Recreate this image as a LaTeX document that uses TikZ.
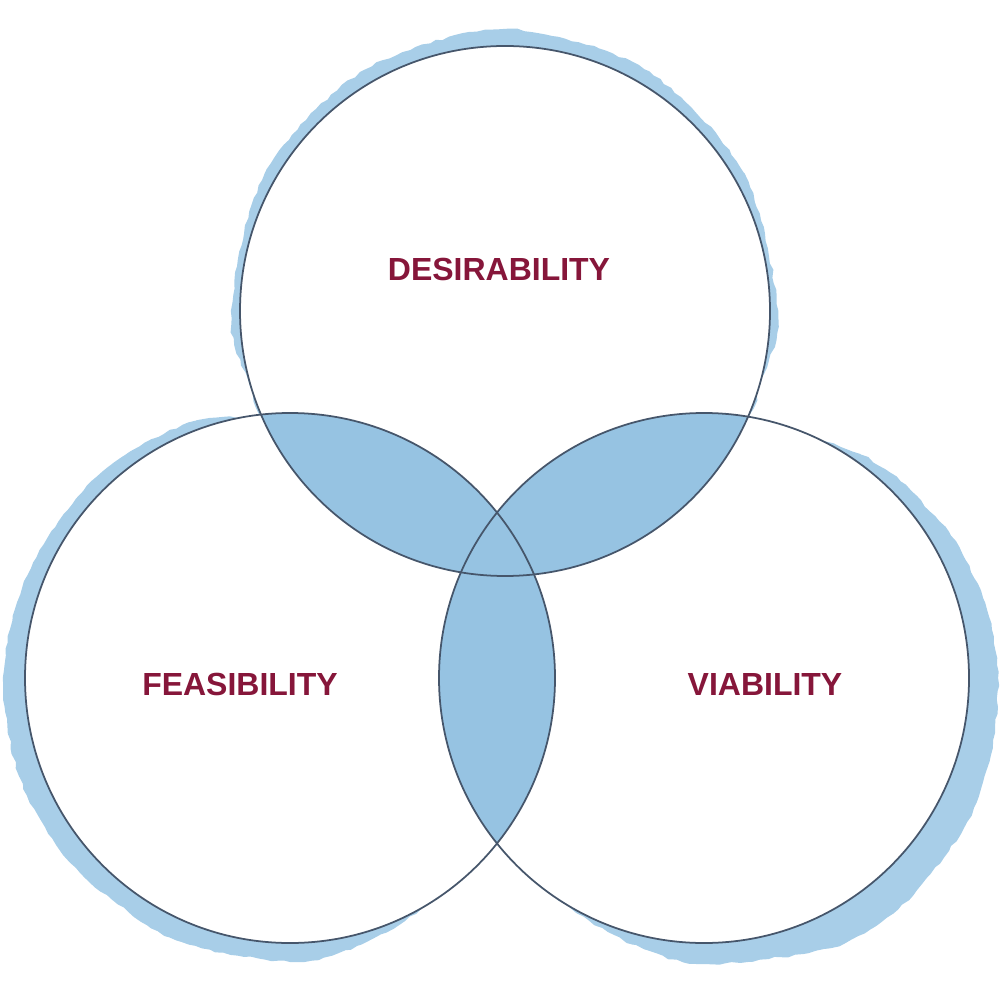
\documentclass[tikz,border=0pt]{standalone}
\usepackage{fontspec}
\newfontfamily\vennfont{Liberation Sans}
\usetikzlibrary{decorations.pathmorphing}
\definecolor{washblue}{HTML}{A8CEE8}
\definecolor{lensblue}{HTML}{96C3E2}
\definecolor{rimgray}{HTML}{46566B}
\definecolor{wine}{HTML}{86163A}
\tikzstyle{washout} = [fill=washblue, decorate, decoration={random steps, segment length=2pt, amplitude=0.35pt}]
\tikzstyle{ring} = [draw=rimgray, line width=0.5pt]
\tikzstyle{title} = [text=wine, inner sep=0pt, font=\vennfont\bfseries\fontsize{9.1}{11}\selectfont]

\begin{document}
\begin{tikzpicture}
                \useasboundingbox (0,0) rectangle (10,-10);
                \coordinate (desire) at (5.05,-3.11);
                \coordinate (feasible) at (2.90,-6.78);
                \coordinate (viable) at (7.04,-6.78);
                \begin{scope}[shift={(desire)}]
                    \fill[washout] plot[smooth cycle] coordinates {(0:2.73) (30:2.76) (60:2.79) (90:2.82) (120:2.79) (150:2.77) (180:2.74) (195:2.66) (210:2.55) (270:2.55) (330:2.55) (345:2.65)};
                \end{scope}
                \begin{scope}[shift={(feasible)}]
                    \fill[washout] plot[smooth cycle] coordinates {(100:2.64) (110:2.74) (125:2.77) (140:2.79) (160:2.83) (180:2.87) (200:2.88) (220:2.87) (245:2.86) (270:2.84) (285:2.76) (300:2.65) (320:2.55) (0:2.55) (45:2.55) (80:2.55)};
                \end{scope}
                \begin{scope}[shift={(viable)}]
                    \fill[washout] plot[smooth cycle] coordinates {(64:2.64) (55:2.73) (45:2.78) (30:2.85) (15:2.91) (0:2.94) (345:2.97) (330:3.00) (310:3.02) (295:2.98) (270:2.86) (255:2.76) (240:2.66) (228:2.55) (180:2.55) (120:2.55) (80:2.55)};
                \end{scope}
                \fill[white] (desire) circle (2.65) (feasible) circle (2.65) (viable) circle (2.65);
                \begin{scope}
                    \clip (desire) circle (2.65);
                    \fill[lensblue] (feasible) circle (2.65) (viable) circle (2.65);
                \end{scope}
                \begin{scope}
                    \clip (feasible) circle (2.65);
                    \fill[lensblue] (viable) circle (2.65);
                \end{scope}
                \draw[ring] (desire) circle (2.65);
                \draw[ring] (feasible) circle (2.65);
                \draw[ring] (viable) circle (2.65);
                \node[title] (desirability) at (4.99,-2.69) {DESIRABILITY};
                \node[title] (feasibility) at (2.40,-6.84) {FEASIBILITY};
                \node[title] (viability) at (7.65,-6.84) {VIABILITY};
\end{tikzpicture}
\end{document}
